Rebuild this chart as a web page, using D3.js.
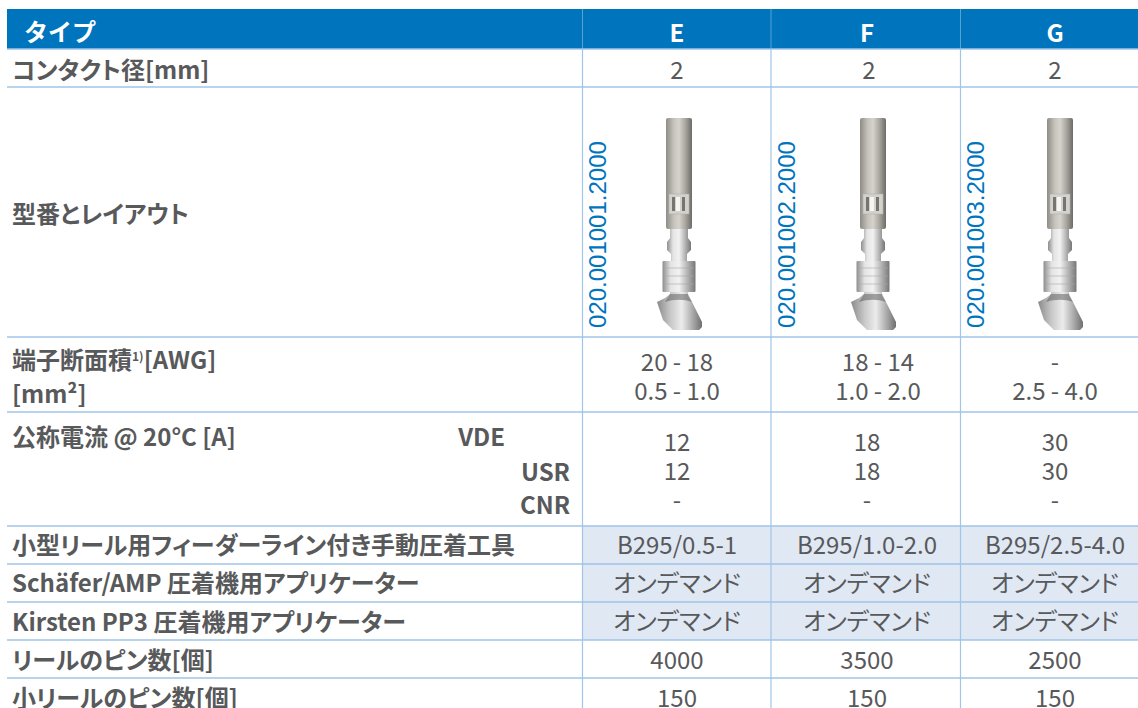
<!DOCTYPE html>
<html><head><meta charset="utf-8">
<script src="https://cdn.jsdelivr.net/npm/d3@7"></script>
<style>
html,body{margin:0;padding:0;background:#fff;overflow:hidden}
text{font-family:"Noto Sans CJK JP","Noto Sans",sans-serif;font-feature-settings:"palt" 1}
</style></head><body><svg id="c" width="1138" height="708"></svg>
<script>
const W=1138,H=708;
const BLUE="#0075be",LINE="#9fc5e8",FILL="#e0e8f4",INK="#58595b";
const types=["E","F","G"];
const columnEdges=[582.5,771,960.5];
const columnMids=[677,867,1055];
const rowEdges=[49,87,337,412,526,564,602,640,678];
const partNumbers=["020.001001.2000","020.001002.2000","020.001003.2000"];
const rowLabels=[
 {t:"コンタクト径[mm]",y:70},
 {t:"型番とレイアウト",y:214},
 {t:"端子断面積",y:360,sup:"1)",rest:"[AWG]"},
 {t:"[mm²]",y:394},
 {t:"公称電流 @ 20°C [A]",y:437},
 {t:"小型リール用フィーダーライン付き手動圧着工具",y:545},
 {t:"Schäfer/AMP 圧着機用アプリケーター",y:583},
 {t:"Kirsten PP3 圧着機用アプリケーター",y:622},
 {t:"リールのピン数[個]",y:660},
 {t:"小リールのピン数[個]",y:698}
];
const standards=[{t:"VDE",x:505,y:437},{t:"USR",x:570,y:472},{t:"CNR",x:570,y:505}];
const valueRows=[
 {y:70,v:["2","2","2"],shiftF:2},
 {y:362,v:["20 - 18","18 - 14","-"],shiftF:11},
 {y:391,v:["0.5 - 1.0","1.0 - 2.0","2.5 - 4.0"],shiftF:11},
 {y:442,v:["12","18","30"]},
 {y:471,v:["12","18","30"]},
 {y:500,v:["-","-","-"]},
 {y:545,v:["B295/0.5-1","B295/1.0-2.0","B295/2.5-4.0"]},
 {y:583,v:["オンデマンド","オンデマンド","オンデマンド"]},
 {y:621,v:["オンデマンド","オンデマンド","オンデマンド"]},
 {y:660,v:["4000","3500","2500"]},
 {y:698,v:["150","150","150"]}
];
const pinCenters=[679,873,1060];

const svg=d3.select("#c");
const defs=svg.append("defs");
function grad(id,stops){
 const g=defs.append("linearGradient").attr("id",id).attr("x1",0).attr("x2",1).attr("y1",0).attr("y2",0);
 g.selectAll("stop").data(stops).join("stop").attr("offset",d=>d[0]).attr("stop-color",d=>d[1]);
}
grad("metal",[[0,"#8f8c86"],[.3,"#c6c3bc"],[.5,"#d6d3cc"],[.75,"#a8a59f"],[1,"#6d6b67"]]);
grad("steel",[[0,"#8e8e8e"],[.25,"#e4e4e4"],[.5,"#f2f2f2"],[.75,"#b5b5b5"],[1,"#777"]]);
grad("flare",[[0,"#8a8a8a"],[.3,"#c8c8c8"],[.55,"#ececec"],[.8,"#a8a8a8"],[1,"#6f6f6f"]]);

// header band
svg.append("rect").attr("x",7).attr("y",9).attr("width",W-7).attr("height",40).attr("fill",BLUE);
svg.append("text").attr("x",24).attr("y",41).attr("fill","#fff").attr("font-size",24).attr("font-weight",700)
 .style("font-feature-settings","normal").text("タイプ");
svg.selectAll(".hd").data(types).join("text").attr("class","hd")
 .attr("x",(d,i)=>columnMids[i]).attr("y",42).attr("text-anchor","middle")
 .attr("fill","#fff").attr("font-size",24).attr("font-weight",700).text(d=>d);

// shaded cells
svg.append("rect").attr("x",columnEdges[0]).attr("y",rowEdges[4]).attr("width",W-columnEdges[0]).attr("height",rowEdges[7]-rowEdges[4]).attr("fill",FILL);

// grid lines
svg.selectAll(".rl").data(rowEdges).join("line").attr("class","rl")
 .attr("x1",7).attr("x2",W).attr("y1",d=>d).attr("y2",d=>d)
 .attr("stroke",LINE).attr("stroke-width",1.4);
svg.selectAll(".cl").data(columnEdges).join("line").attr("class","cl")
 .attr("x1",d=>d).attr("x2",d=>d).attr("y1",49).attr("y2",H)
 .attr("stroke",LINE).attr("stroke-width",1.2);
svg.selectAll(".clh").data(columnEdges).join("line").attr("class","clh")
 .attr("x1",d=>d).attr("x2",d=>d).attr("y1",9).attr("y2",49)
 .attr("stroke",LINE).attr("stroke-width",1).attr("opacity",.55);

// row labels
const base=y=>y+8.6;
const lab=svg.append("g").attr("fill",INK).attr("font-size",24).attr("font-weight",700);
rowLabels.forEach(r=>{
 const t=lab.append("text").attr("x",12).attr("y",base(r.y)).text(r.t);
 if(r.sup){
  t.append("tspan").attr("font-size",12).attr("dy",-8).text(r.sup);
  t.append("tspan").attr("dy",8).text(r.rest);
 }
});
lab.selectAll(".std").data(standards).join("text").attr("class","std")
 .attr("x",d=>d.x).attr("y",d=>base(d.y)).attr("text-anchor","end").text(d=>d.t);

// values
const val=svg.append("g").attr("fill",INK).attr("font-size",24).attr("text-anchor","middle");
valueRows.forEach(r=>{
 val.selectAll(null).data(r.v).join("text")
  .attr("x",(d,i)=>columnMids[i]+(i===1&&r.shiftF?r.shiftF:0)).attr("y",base(r.y)).text(d=>d);
});

// part numbers
svg.selectAll(".pn").data(partNumbers).join("text").attr("class","pn")
 .attr("transform",(d,i)=>`translate(${columnEdges[i]+23.5},328) rotate(-90)`)
 .attr("fill",BLUE).attr("font-size",24)
 .style("font-family","'Liberation Sans',Arial,sans-serif").style("font-feature-settings","normal").text(d=>d);

// pin illustrations
function pin(g){
 g.append("rect").attr("x",-13).attr("y",0).attr("width",26).attr("height",111).attr("rx",2).attr("fill","url(#metal)");
 g.append("rect").attr("x",-10).attr("y",76).attr("width",20).attr("height",20).attr("fill","#d4d2cc").attr("stroke","#aaa").attr("stroke-width",.5);
 g.append("rect").attr("x",-7).attr("y",79).attr("width",3).attr("height",14).attr("fill","#77756f");
 g.append("rect").attr("x",-3).attr("y",79).attr("width",4).attr("height",14).attr("fill","#f6f5f2");
 g.append("rect").attr("x",3).attr("y",79).attr("width",3).attr("height",14).attr("fill","#77756f");
 g.append("path").attr("d","M-9,111 H9 V120 L12,124 V132 L8,136 V145 H-8 V136 L-12,132 V124 L-9,120 Z").attr("fill","url(#steel)");
 g.append("rect").attr("x",-16.5).attr("y",143).attr("width",33).attr("height",31).attr("rx",1).attr("fill","url(#steel)");
 g.selectAll(".b").data([150,158,166]).join("line").attr("x1",-15).attr("x2",15).attr("y1",d=>d).attr("y2",d=>d).attr("stroke","#aaa").attr("stroke-width",.6);
 g.append("path").attr("d","M-9,174 H9 V178 L13,184 L23,204 V209 L20,212 H-6 L-16,202 L-22,184 L-14,180 L-9,176 Z").attr("fill","url(#flare)");
 g.append("path").attr("d","M-9,176 H9 L13,184 C5,181 -5,181 -14,184 Z").attr("fill","#555").attr("opacity",.5);
}
svg.selectAll(".pin").data(pinCenters).join("g").attr("class","pin")
 .attr("transform",d=>`translate(${d},118)`).each(function(){pin(d3.select(this));});
</script></body></html>
